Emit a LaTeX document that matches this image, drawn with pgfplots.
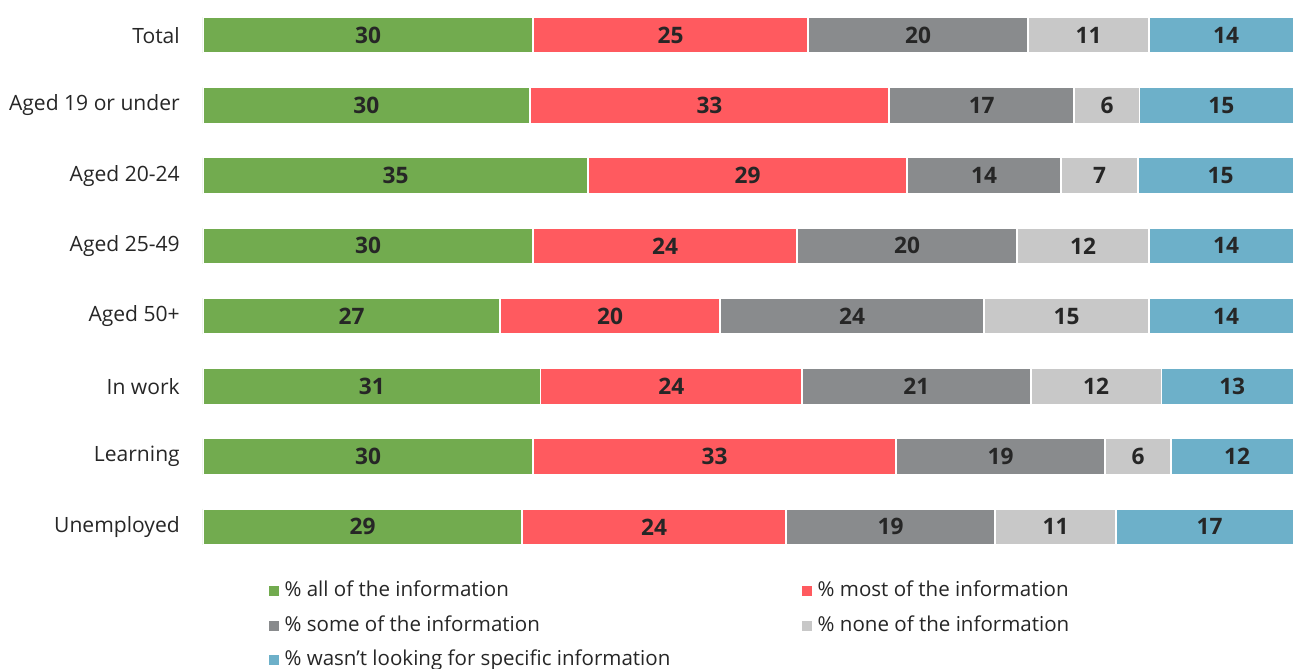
\documentclass[border=0pt]{standalone}
\usepackage{fontspec}
\setmainfont{Open Sans}
\usepackage{pgfplots}
\usepackage{pgfplotstable}
\pgfplotsset{compat=1.18}

\definecolor{cAll}{HTML}{72AB4F}
\definecolor{cMost}{HTML}{FF5A5F}
\definecolor{cSome}{HTML}{898B8D}
\definecolor{cNone}{HTML}{C8C8C8}
\definecolor{cNot}{HTML}{6DB0C9}
\definecolor{txt}{HTML}{262626}

% shares in percent, one row per group (rounded, so some rows add to 101)
\pgfplotstableread{
idx all most some none notlooking
0 30 25 20 11 14
1 30 33 17 6 15
2 35 29 14 7 15
3 30 24 20 12 14
4 27 20 24 15 14
5 31 24 21 12 13
6 30 33 19 6 12
7 29 24 19 11 17
}\resp

% 100% stacked: each row scaled to its own total
\newcommand{\tot}{(\thisrow{all}+\thisrow{most}+\thisrow{some}+\thisrow{none}+\thisrow{notlooking})}

\newcommand{\lblfont}{\fontsize{15.8}{19}\selectfont}

\pgfplotsset{
  common/.style={
    scale only axis, width=825pt, height=421.5pt,
    at={(152.25pt,0pt)}, anchor=north west,
    xmin=0, xmax=100, ymin=-0.5, ymax=7.5, y dir=reverse,
  },
  seglabel/.style={draw=none, mark=none, nodes near coords,
    point meta=explicit symbolic,
    every node near coord/.append style={anchor=center,
      font=\fontsize{17}{19}\selectfont\bfseries, text=txt}},
  seg/.style={fill=#1, draw=white, line width=1.2pt},
}

\begin{document}
\begin{tikzpicture}
\begin{axis}[common,
  xbar stacked, bar width=27pt,
  hide x axis,
  axis line style={draw=none},
  major tick length=0pt,
  ytick={0,...,7},
  yticklabels={Total,Aged 19 or under,Aged 20-24,Aged 25-49,Aged 50+,In work,Learning,Unemployed},
  yticklabel style={anchor=east, inner sep=0pt, xshift=-17.25pt, font=\lblfont, text=txt},
  legend columns=2,
  legend cell align=left,
  legend image code/.code={\fill[#1,draw=none] (0pt,-3.75pt) rectangle (7.5pt,3.75pt);},
  legend style={at={(axis description cs:0.06,-0.028)}, anchor=north west,
    draw=none, fill=none, inner sep=0pt, font=\fontsize{15.4}{18}\selectfont, text=txt,
    nodes={inner sep=2pt, text height=12pt, text depth=4pt},
    row sep=5.9pt,
    /tikz/every odd column/.append style={column sep=2pt},
    /tikz/every even column/.append style={column sep=97pt}},
]
\addplot[seg=cAll] table[x expr=100*\thisrow{all}/\tot, y=idx] {\resp};
\addplot[seg=cMost] table[x expr=100*\thisrow{most}/\tot, y=idx] {\resp};
\addplot[seg=cSome] table[x expr=100*\thisrow{some}/\tot, y=idx] {\resp};
\addplot[seg=cNone] table[x expr=100*\thisrow{none}/\tot, y=idx] {\resp};
\addplot[seg=cNot] table[x expr=100*\thisrow{notlooking}/\tot, y=idx] {\resp};
\legend{\% all of the information, \% most of the information,
  \% some of the information, \% none of the information,
  \% wasn't looking for specific information}
\end{axis}

\begin{axis}[common, hide axis]
\addplot[seglabel] table[x expr=100*(\thisrow{all}/2)/\tot, y=idx, meta=all] {\resp};
\addplot[seglabel] table[x expr=100*(\thisrow{all}+\thisrow{most}/2)/\tot, y=idx, meta=most] {\resp};
\addplot[seglabel] table[x expr=100*(\thisrow{all}+\thisrow{most}+\thisrow{some}/2)/\tot, y=idx, meta=some] {\resp};
\addplot[seglabel] table[x expr=100*(\thisrow{all}+\thisrow{most}+\thisrow{some}+\thisrow{none}/2)/\tot, y=idx, meta=none] {\resp};
\addplot[seglabel] table[x expr=100*(\thisrow{all}+\thisrow{most}+\thisrow{some}+\thisrow{none}+\thisrow{notlooking}/2)/\tot, y=idx, meta=notlooking] {\resp};
\end{axis}

\pgfresetboundingbox
\path (0pt,0pt) rectangle (969.75pt,-501pt);
\end{tikzpicture}
\end{document}
